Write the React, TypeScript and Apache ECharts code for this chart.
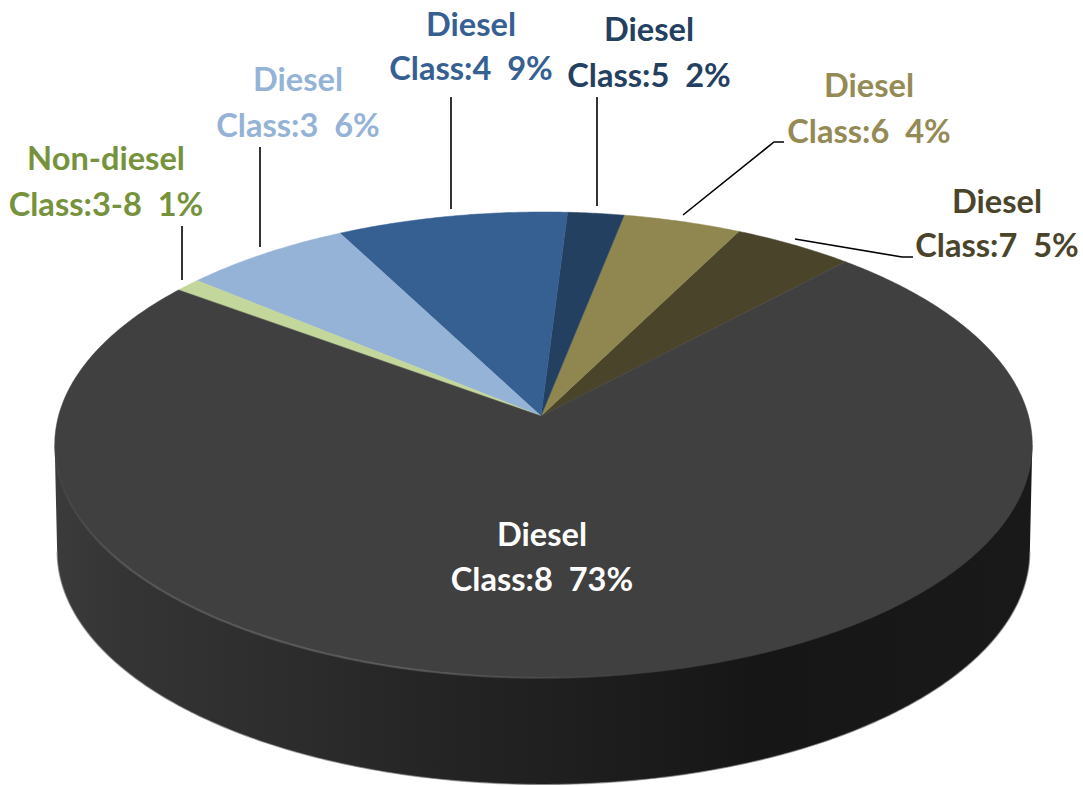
import React, { useEffect, useRef } from "react";
import * as echarts from "echarts";

// Data, in the order the slices run anticlockwise round the pie (percent of the whole)
const fuels = ["Diesel", "Diesel", "Diesel", "Diesel", "Diesel", "Non-diesel", "Diesel"];
const classes = ["Class:7", "Class:6", "Class:5", "Class:4", "Class:3", "Class:3-8", "Class:8"];
const shares = [4.5, 4.4, 2.1, 8.6, 6.3, 0.95, 73.15];

// Styling
const sliceColors = ["#4a452a", "#8f8650", "#244061", "#365f92", "#95b3d7", "#c3d69b", "#404040"];
const textColors = ["#4a452a", "#948a54", "#244061", "#366092", "#95b3d7", "#76923c", "#ffffff"];
// Layout of the label centres: [x, first line y, second line y]
const labelAnchors = [
  [997, 200, 244],
  [869, 84, 130],
  [649, 28, 74],
  [471, 23, 67],
  [298, 78, 124],
  [106, 157, 203],
  [542, 533, 578],
];
const leaderLines = [
  [[795, 239], [902, 257], [913, 257]],
  [[683, 215], [774, 142], [784, 142]],
  [[597, 206], [597, 97]],
  [[451, 209], [451, 97]],
  [[260, 247], [260, 147]],
  [[182, 280], [182, 226]],
];

// Perspective view of the pie
const apex = [541, 416];
const view = { cx: 543.5, cy: 416, rx: 485, ry: 229.4, k: 0.1244, depth: 106.5, startDeg: 47.2 };
const rad = (d: number) => (d * Math.PI) / 180;

function rimPoint(deg: number, dy = 0, scale = 1) {
  const c = Math.cos(rad(deg));
  const s = Math.sin(rad(deg));
  const den = 1 + view.k * s;
  return [view.cx + (scale * view.rx * c) / den, view.cy + dy - (view.ry * s) / den];
}

function rimArc(from: number, to: number, dy = 0, scale = 1) {
  const n = Math.max(2, Math.ceil(Math.abs(to - from) * 2));
  const pts: number[][] = [];
  for (let i = 0; i <= n; i++) pts.push(rimPoint(from + ((to - from) * i) / n, dy, scale));
  return pts;
}

const total = shares.reduce((a, b) => a + b, 0);

function sliceRender(params: any, api: any) {
  const i = params.dataIndex;
  let before = 0;
  for (let j = 0; j < i; j++) before += shares[j];
  const value = api.value(0);
  const a0 = view.startDeg + (before / total) * 360;
  const a1 = a0 + (value / total) * 360;
  return {
    type: "polygon",
    shape: { points: [apex, ...rimArc(a0, a1)] },
    style: { fill: sliceColors[i], stroke: sliceColors[i], lineWidth: 0.5 },
  };
}

function wallRender() {
  const tilt = (Math.asin(view.k) * 180) / Math.PI;
  const left = 180 + tilt;
  const right = 360 - tilt;
  const base = rimArc(left, right, view.depth, 0.995);
  const points = [rimPoint(left), ...base, rimPoint(right)];
  return {
    type: "group",
    children: [
      {
        type: "polygon",
        shape: { points },
        style: {
          fill: new echarts.graphic.LinearGradient(0, 0, 1, 0, [
            { offset: 0, color: "#3b3b3b" },
            { offset: 0.06, color: "#353535" },
            { offset: 0.25, color: "#2c2c2c" },
            { offset: 0.4, color: "#242424" },
            { offset: 0.52, color: "#1f1f1f" },
            { offset: 0.72, color: "#161616" },
            { offset: 1, color: "#191919" },
          ]),
        },
      },
      {
        type: "polyline",
        shape: { points: base },
        style: { fill: "none", stroke: "rgba(130,130,130,0.65)", lineWidth: 1.2 },
      },
    ],
  };
}

function rimRender() {
  return {
    type: "polyline",
    shape: { points: rimArc(186, 280) },
    style: {
      fill: "none",
      lineWidth: 2.2,
      stroke: new echarts.graphic.LinearGradient(0, 0, 1, 0, [
        { offset: 0, color: "rgba(255,255,255,0.02)" },
        { offset: 0.12, color: "rgba(255,255,255,0.13)" },
        { offset: 0.6, color: "rgba(255,255,255,0.16)" },
        { offset: 1, color: "rgba(255,255,255,0)" },
      ]),
    },
  };
}

const labelFont = { fontFamily: "Lato", fontWeight: 700, fontSize: 32.6 };

function buildGraphics() {
  const els: any[] = [];
  leaderLines.forEach((pts) => {
    els.push({
      type: "polyline",
      shape: { points: pts },
      style: { fill: "none", stroke: "#000000", lineWidth: 1.6 },
      z: 10,
    });
  });
  fuels.forEach((fuel, i) => {
    const [x, y1, y2] = labelAnchors[i];
    const base = { ...labelFont, fill: textColors[i], textAlign: "center", textVerticalAlign: "middle" };
    els.push({ type: "text", x, y: y1, style: { ...base, text: fuel }, z: 11 });
    els.push({
      type: "text",
      x,
      y: y2,
      style: { ...base, text: `${classes[i]}  ${Math.round(shares[i])}%` },
      z: 11,
    });
  });
  return els;
}

export default function App() {
  const ref = useRef<HTMLDivElement>(null);
  useEffect(() => {
    const chart = echarts.init(ref.current!, null, { renderer: "svg" });
    chart.setOption({
      animation: false,
      backgroundColor: "#ffffff",
      series: [
        { type: "custom", coordinateSystem: "none", silent: true, z: 1, data: [1], renderItem: wallRender },
        {
          type: "custom",
          coordinateSystem: "none",
          silent: true,
          z: 2,
          data: shares.map((v, i) => ({ name: classes[i], value: [v] })),
          renderItem: sliceRender,
        },
        { type: "custom", coordinateSystem: "none", silent: true, z: 3, data: [1], renderItem: rimRender },
      ],
      graphic: { elements: buildGraphics() },
    });
    return () => chart.dispose();
  }, []);
  return <div ref={ref} style={{ position: "fixed", left: 0, top: 0, width: 1083, height: 786 }} />;
}
